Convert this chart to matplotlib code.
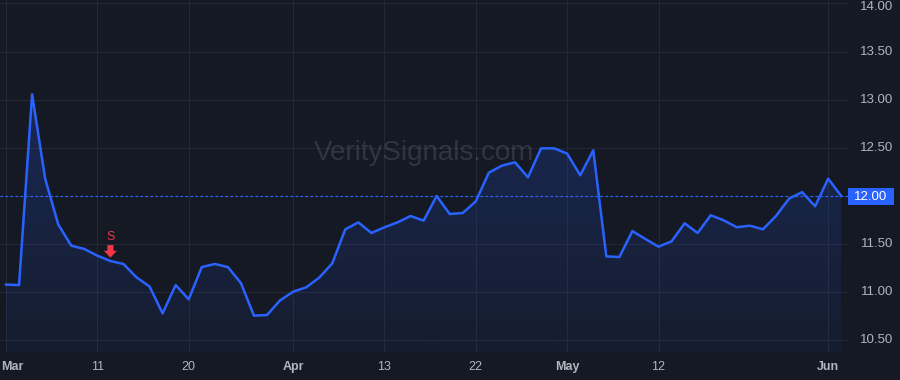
import numpy as np
import matplotlib.pyplot as plt
from matplotlib.path import Path
from matplotlib.patches import PathPatch

# daily closes, one per trading session (Mar -> early Jun)
prices = [11.08, 11.075, 13.056, 12.18, 11.706, 11.484, 11.45, 11.38, 11.325, 11.294,
          11.155, 11.06, 10.781, 11.075, 10.927, 11.262, 11.294, 11.262, 11.096, 10.757,
          10.764, 10.916, 11.006, 11.051, 11.152, 11.30, 11.654, 11.726, 11.616, 11.675,
          11.726, 11.792, 11.744, 12.0, 11.813, 11.823, 11.945, 12.242, 12.315, 12.35,
          12.194, 12.495, 12.495, 12.44, 12.215, 12.474, 11.373, 11.366, 11.636, 11.553,
          11.474, 11.529, 11.716, 11.616, 11.80, 11.747, 11.675, 11.692, 11.654, 11.792,
          11.972, 12.04, 11.893, 12.18, 12.00]
tick_idx = [0, 7, 14, 22, 29, 36, 43, 50, 63]
tick_labels = ["Mar", "11", "20", "Apr", "13", "22", "May", "12", "Jun"]
month_labels = {"Mar", "Apr", "May", "Jun"}
y_ticks = [10.5, 11.0, 11.5, 12.0, 12.5, 13.0, 13.5, 14.0]
last_price = 12.00
signal_idx = 8
signal_text = "S"

bg = "#151924"
grid_c = "#242835"
line_c = "#2962ff"
text_c = "#b2b5be"

plt.rcParams['font.family'] = ['Liberation Sans', 'DejaVu Sans']

fig = plt.figure(figsize=(9, 3.8), dpi=100, facecolor=bg)
ax = fig.add_axes([0, 28 / 380, 848 / 900, 352 / 380])
ax.set_facecolor(bg)

x = np.arange(len(prices))
y = np.array(prices)
ymin, ymax = 10.38, 14.035
xmin, xmax = -0.46, 64.52
ax.set_xlim(xmin, xmax)
ax.set_ylim(ymin, ymax)

# gradient fill under the line
verts = [(x[0], ymin)] + list(zip(x, y)) + [(x[-1], ymin)]
clip = PathPatch(Path(verts), facecolor="none", edgecolor="none")
ax.add_patch(clip)
img = np.zeros((256, 1, 4))
img[..., 0] = 0x29 / 255
img[..., 1] = 0x62 / 255
img[..., 2] = 1.0
img[:, 0, 3] = np.linspace(0.05, 0.22, 256)
im = ax.imshow(img, extent=[x[0], x[-1], ymin, y.max()], origin="lower",
               aspect="auto", zorder=1, interpolation="bilinear")
im.set_clip_path(clip)

ax.plot(x, y, color=line_c, lw=1.8, zorder=3, solid_joinstyle="round")

# last price dotted line
ax.axhline(last_price, color=line_c, lw=0.9, ls=(0, (2, 2)), zorder=2)

# grid
for t in y_ticks:
    ax.axhline(t, color=grid_c, lw=0.8, zorder=0)
for t in tick_idx:
    ax.axvline(t, color=grid_c, lw=0.8, zorder=0)

for s in ax.spines.values():
    s.set_visible(False)
ax.set_xticks([])
ax.set_yticks([])

# right price scale labels (top one nudged down so it stays on the canvas)
H = fig.bbox.height
for t in y_ticks:
    if abs(t - last_price) < 1e-9:
        continue
    py = ax.transData.transform((0, t))[1]
    py = min(py, H - 7)
    fig.text(877 / 900, py / H, f"{t:.2f}",
             color=text_c, fontsize=9.5, ha="center", va="center")

# last price tag
fig.patches.append(plt.Rectangle((848 / 900, (380 - 205) / 380), 46 / 900, 17 / 380,
                                 transform=fig.transFigure, facecolor=line_c,
                                 edgecolor="none"))
fig.text(871 / 900, (380 - 196.5) / 380, f"{last_price:.2f}", color="white",
         fontsize=9.5, ha="center", va="center")

# x labels (first one kept inside the canvas)
for t, lab in zip(tick_idx, tick_labels):
    px = 6 + 13.05 * t
    ha = "center"
    if t == tick_idx[0]:
        px, ha = 1, "left"
    fig.text(px / 900, (380 - 367) / 380, lab, color=text_c,
             fontsize=9, ha=ha, va="center",
             fontweight="bold" if lab in month_labels else "normal")

# sell signal
red = "#f23645"
ax.annotate("", xy=(signal_idx, prices[signal_idx] + 0.035),
            xytext=(signal_idx, prices[signal_idx] + 0.165),
            arrowprops=dict(arrowstyle="simple,head_length=0.45,head_width=0.85,tail_width=0.4",
                            color=red, lw=0, mutation_scale=11, shrinkA=0, shrinkB=0),
            zorder=4)
ax.text(signal_idx, prices[signal_idx] + 0.245, signal_text, color=red, fontsize=9,
        ha="center", va="center", zorder=4)

# watermark
ax.text(0.5, 0.565, "VeritySignals.com", transform=ax.transAxes, color="#9598a1",
        alpha=0.22, fontsize=20, ha="center", va="center", zorder=2)

fig.savefig("out.png", dpi=100, facecolor=bg)
